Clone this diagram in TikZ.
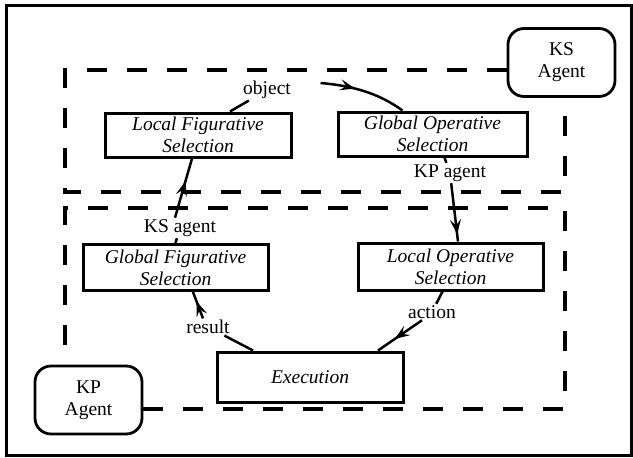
\documentclass[tikz,border=0pt]{standalone}
\usepackage{fontspec}
\setmainfont{Liberation Serif}
\usetikzlibrary{arrows.meta,calc,decorations.markings}

\tikzset{
  unit/.style={draw, line width=3pt, minimum width=186pt, minimum height=44pt,
    align=center, inner sep=0pt, font=\fontsize{19.5pt}{22pt}\selectfont\itshape},
  agent/.style={draw, line width=2.8pt, rounded corners=16pt, align=center,
    inner sep=0pt, minimum width=107pt, minimum height=68pt,
    font=\fontsize{19.5pt}{22pt}\selectfont},
  lbl/.style={inner sep=1.5pt, font=\fontsize{19.5pt}{22pt}\selectfont},
  zone/.style={line width=3.2pt, dash pattern=on 20pt off 20pt},
  flow/.style={line width=2.5pt},
  tipat/.style={postaction={decorate}, decoration={markings,
    mark=at position #1 with {\arrow{Stealth[length=15pt,width=11pt,inset=6pt]}}}},
}

\begin{document}
\begin{tikzpicture}[x=1pt, y=-1pt]
\useasboundingbox (0,0) rectangle (633,458);

% outer frame
\draw[line width=3pt] (6.5,5.5) rectangle (631,455);

% processing units
\node[unit] (lfs) at (198,135) {Local Figurative\\Selection};
\node[unit, minimum width=189pt] (gos) at (432.5,134) {Global Operative\\Selection};
\node[unit, minimum width=185pt, minimum height=46pt] (gfs) at (175.5,267.5) {Global Figurative\\Selection};
\node[unit, minimum width=185pt, minimum height=47pt] (los) at (450.5,266.5) {Local Operative\\Selection};
\node[unit, minimum height=50pt] (exe) at (310,377) {Execution};

% agents
\node[agent] (ks) at (561.5,62.5) {KS\\Agent};
\node[agent] (kp) at (88.5,400) {KP\\Agent};

% agent zones
\coordinate (uz1) at (65,70);
\coordinate (uz2) at (565,192);
\coordinate (lz1) at (65,208);
\coordinate (lz2) at (565,409);
\draw[zone] (ks.west |- uz1) -- (uz1) -- (uz1 |- uz2) -- (uz2) -- (uz2 |- ks.south);
\draw[zone] (kp.east |- lz2) -- (lz2) -- (lz1 -| lz2) -- (lz1) -- (lz1 |- kp.north);

% connector labels
\node[lbl] (obj) at (267,90) {object};
\node[lbl] (kpa) at (450,173) {KP agent};
\node[lbl] (act) at (432,312) {action};
\node[lbl] (res) at (208,327) {result};
\node[lbl] (ksa) at (180,228) {KS agent};

% cycle of connectors
\draw[flow] ($(lfs.north)+(32,0)$) -- (obj);
\draw[flow, tipat=0.4] ($(obj.east)+(28,-7)$) .. controls +(35,3) and +(-22,-16) .. ($(gos.north)+(-30,0)$);

\draw[flow] ($(gos.south)+(12,0)$) -- (kpa);
\draw[flow, tipat=0.88] (kpa) -- ($(los.north)+(7.5,0)$);

\draw[flow] ($(los.south)+(-8,0)$) -- (act);
\draw[flow, tipat=0.62] ($(act.south)+(-10,0)$) -- ($(exe.north)+(68,0)$);

\draw[flow] ($(exe.north)+(-57,0)$) -- (res);
\draw[flow, tipat=0.65] ($(res.north)+(-5,0)$) -- ($(gfs.south)+(17.5,0)$);

\draw[flow] (gfs.north) -- (ksa);
\draw[flow, tipat=0.62] ($(ksa.north)+(-5,0)$) -- ($(lfs.south)+(-6,0)$);
\end{tikzpicture}
\end{document}
